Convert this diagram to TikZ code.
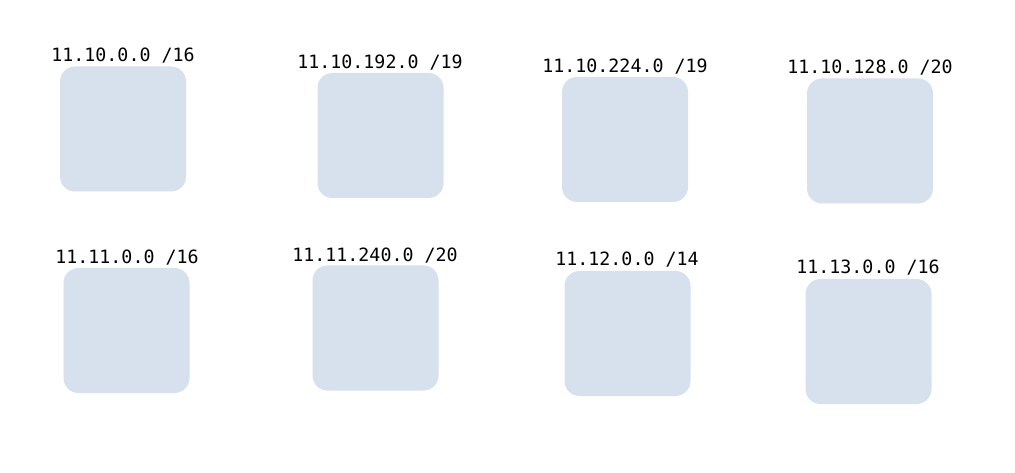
\documentclass[tikz,border=0pt]{standalone}
\usepackage{fontspec}
\setmonofont{DejaVu Sans Mono}
\definecolor{boxfill}{RGB}{214,225,237}
\begin{document}
\begin{tikzpicture}[x=1pt,y=-1pt,
  netbox/.style={fill=boxfill, draw=none, rounded corners=15pt, minimum width=126pt, minimum height=125pt, inner sep=0pt},
  netlabel/.style={font=\ttfamily\fontsize{18.3}{18.3}\selectfont, inner sep=0pt, anchor=base}]
\useasboundingbox (0,0) rectangle (1015,473);
\fill[white] (0,0) rectangle (1015,473);
% top row
\node[netbox] (b1) at (123,129) {};
\node[netbox] (b2) at (380.5,135.5) {};
\node[netbox] (b3) at (625,139.5) {};
\node[netbox] (b4) at (870,141) {};
% bottom row
\node[netbox] (b5) at (126.5,330.5) {};
\node[netbox] (b6) at (375.5,328) {};
\node[netbox] (b7) at (627.5,333.5) {};
\node[netbox] (b8) at (868.5,341.5) {};
% labels
\node[netlabel] (l1) at (123,61.5) {11.10.0.0 /16};
\node[netlabel] (l2) at (380,68.5) {11.10.192.0 /19};
\node[netlabel] (l3) at (625,72.5) {11.10.224.0 /19};
\node[netlabel] (l4) at (870,73.5) {11.10.128.0 /20};
\node[netlabel] (l5) at (127,263.5) {11.11.0.0 /16};
\node[netlabel] (l6) at (375,261.5) {11.11.240.0 /20};
\node[netlabel] (l7) at (627,265.5) {11.12.0.0 /14};
\node[netlabel] (l8) at (868,273.5) {11.13.0.0 /16};
\end{tikzpicture}
\end{document}
